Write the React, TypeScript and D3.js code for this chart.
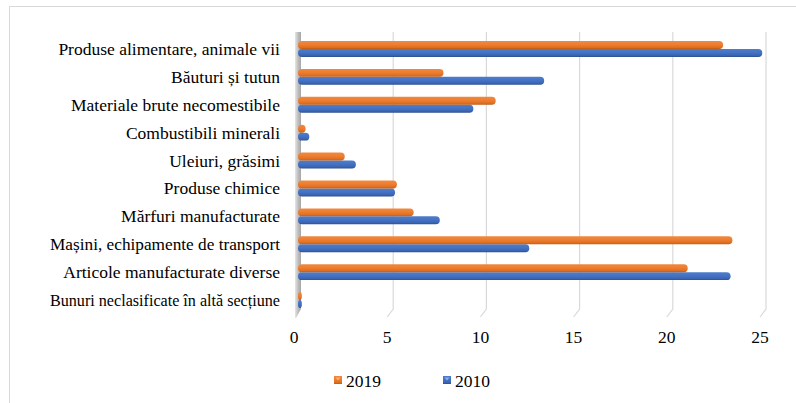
import React from "react";
import * as d3 from "d3";

const categories = [
  "Produse alimentare, animale vii",
  "Băuturi și tutun",
  "Materiale brute necomestibile",
  "Combustibili minerali",
  "Uleiuri, grăsimi",
  "Produse chimice",
  "Mărfuri manufacturate",
  "Mașini, echipamente de transport",
  "Articole manufacturate diverse",
  "Bunuri neclasificate în altă secțiune",
];
const values2019 = [22.7, 7.7, 10.5, 0.3, 2.4, 5.2, 6.1, 23.2, 20.8, 0.1];
const values2010 = [24.8, 13.1, 9.3, 0.5, 3.0, 5.1, 7.5, 12.3, 23.1, 0.1];
const ticks = [0, 5, 10, 15, 20, 25];
const seriesNames = ["2019", "2010"];

const W = 796;
const H = 403;
const FS = 17.5;
const FONT = `"Liberation Serif"`;
const MAX_LABEL = 230;

function measure(s: string): number {
  try {
    const c = document.createElement("canvas");
    const ctx = c.getContext("2d")!;
    ctx.font = `${FS}px "Liberation Serif"`;
    return ctx.measureText(s).width;
  } catch (e) {
    return 0;
  }
}

export default function App() {
  const x = d3.scaleLinear().domain([0, 25]).range([300, 766]);
  const y = d3.scaleBand<string>().domain(categories).range([35, 314]).paddingInner(0.43).paddingOuter(0.215);
  const bw = y.bandwidth() / 2;
  const gTop = 32;
  const gMid = 309;
  const gBot = 317;
  const dx = 6;

  const barPath = (x0: number, x1: number, yy: number, h: number) => {
    const r = Math.min(h / 2, Math.max(0.5, (x1 - x0) / 2));
    const w = Math.max(x1 - x0, 1);
    return { x: x0, y: yy, w, h, r };
  };

  const textStyle = { fontFamily: FONT, fontSize: `${FS}px` };

  return (
    <svg width={W} height={H} style={{ position: "absolute", left: 0, top: 0, background: "#fff" }}>
      <defs>
        <linearGradient id="gOrange" x1="0" y1="0" x2="0" y2="1">
          <stop offset="0" stopColor="#F08A3E" />
          <stop offset="0.45" stopColor="#ED7D31" />
          <stop offset="0.8" stopColor="#E0701F" />
          <stop offset="1" stopColor="#B85C1A" />
        </linearGradient>
        <linearGradient id="gBlue" x1="0" y1="0" x2="0" y2="1">
          <stop offset="0" stopColor="#4F7DCC" />
          <stop offset="0.45" stopColor="#4472C4" />
          <stop offset="0.8" stopColor="#3A65B3" />
          <stop offset="1" stopColor="#2C4F8E" />
        </linearGradient>
        <linearGradient id="gWall" x1="0" y1="0" x2="1" y2="0">
          <stop offset="0" stopColor="#e6e6e6" />
          <stop offset="0.5" stopColor="#bfbfbf" />
          <stop offset="1" stopColor="#a6a6a6" />
        </linearGradient>
      </defs>
      <rect x={9.5} y={6.5} width={790} height={400} fill="#fff" stroke="#d9d9d9" strokeWidth={1} />

      {ticks.slice(1).map((t) => (
        <polyline
          key={t}
          points={`${x(t)},${gTop} ${x(t)},${gMid} ${x(t) - dx},${gBot}`}
          fill="none"
          stroke="#d9d9d9"
          strokeWidth={1.2}
        />
      ))}
      <polygon
        points={`${x(0) - 4},${gTop} ${x(0) + 1},${gTop} ${x(0) + 1},${gMid} ${x(0) - 4},${gBot + 1} ${x(0) - 5},${gBot + 1} ${x(0) - 5},${gTop}`}
        fill="url(#gWall)"
      />

      {categories.map((c, i) => {
        const y0 = y(c)!;
        const b1 = barPath(x(0) - 2, x(values2019[i]), y0, bw);
        const b2 = barPath(x(0) - 2, x(values2010[i]), y0 + bw, bw);
        const tw = measure(c);
        const fit = tw > MAX_LABEL ? { textLength: MAX_LABEL, lengthAdjust: "spacingAndGlyphs" } : {};
        return (
          <g key={c}>
            <rect x={b2.x} y={b2.y} width={b2.w} height={b2.h} rx={b2.r} ry={b2.h / 2} fill="url(#gBlue)" />
            <rect x={b1.x} y={b1.y} width={b1.w} height={b1.h} rx={b1.r} ry={b1.h / 2} fill="url(#gOrange)" />
            <text x={280} y={y0 + bw + 6} textAnchor="end" style={textStyle} fill="#000" {...fit}>
              {c}
            </text>
          </g>
        );
      })}

      {ticks.map((t) => (
        <text key={t} x={x(t) - dx} y={343} textAnchor="middle" style={textStyle} fill="#000">
          {t}
        </text>
      ))}

      {seriesNames.map((s, i) => {
        const lx = i === 0 ? 334 : 443;
        return (
          <g key={s}>
            <rect x={lx} y={376} width={8} height={8} fill={i === 0 ? "url(#gOrange)" : "url(#gBlue)"} />
            <path d={`M${lx + 1.5},${377.5} L${lx + 6.5},${377.5} L${lx + 4},${380.5}Z`} fill={i === 0 ? "#F6B27A" : "#8FB0E6"} />
            <text x={lx + 12} y={386.5} style={textStyle} fill="#000">
              {s}
            </text>
          </g>
        );
      })}
    </svg>
  );
}
